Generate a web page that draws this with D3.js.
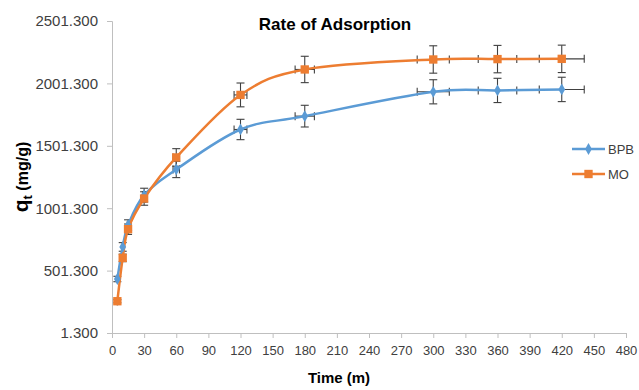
<!DOCTYPE html>
<html>
<head>
<meta charset="utf-8">
<script src="https://cdn.jsdelivr.net/npm/d3@7"></script>
<style>
  body { margin: 0; background: #fff; }
  text { font-family: "Liberation Sans", Arial, sans-serif; fill: #404040; }
</style>
</head>
<body>
<div id="chart"></div>
<script>
// Data
const times = [5, 10, 15, 30, 60, 120, 180, 300, 360, 420];
const bpbValues = [434, 691, 865, 1106, 1312, 1632, 1739, 1934, 1945, 1953];
const moValues = [256, 603, 833, 1079, 1408, 1909, 2113, 2193, 2196, 2198];
const seriesNames = ['BPB', 'MO'];
const xTicks = d3.range(0, 481, 30);
const yTicks = [1.3, 501.3, 1001.3, 1501.3, 2001.3, 2501.3];
const errorPercent = 0.05;

const width = 639, height = 390;
const colors = { BPB: '#5b9bd5', MO: '#ed7d31' };

const svg = d3.select('#chart')
    .append('svg')
    .attr('width', width)
    .attr('height', height);

const x = d3.scaleLinear().domain([0, 480]).range([112, 626]);
const y = d3.scaleLinear().domain([1.3, 2501.3]).range([333, 21]);

// Axes
const xAxis = svg.append('g')
    .attr('transform', `translate(0,${y(1.3)})`)
    .call(d3.axisBottom(x).tickValues(xTicks).tickSize(5).tickPadding(5).tickFormat(d3.format('d')));
xAxis.selectAll('text').style('font-size', '13px').attr('dy', '0.9em');

const yAxis = svg.append('g')
    .attr('transform', `translate(${x(0)},0)`)
    .call(d3.axisLeft(y).tickValues(yTicks).tickSize(5).tickPadding(9).tickFormat(d3.format('.3f')));
yAxis.selectAll('text').style('font-size', '15px');

svg.selectAll('.domain, .tick line').attr('stroke', '#bfbfbf');
svg.selectAll('.domain').attr('stroke-width', 1);

// Series
const series = [
    { name: 'BPB', values: bpbValues },
    { name: 'MO', values: moValues }
].map(s => ({
    name: s.name,
    points: times.map((t, i) => ({ t: t, v: s.values[i] }))
}));

const line = d3.line()
    .x(d => x(d.t))
    .y(d => y(d.v))
    .curve(d3.curveCardinal.tension(0));

// Error bars (5% in both directions)
const errColor = '#404040';
series.forEach(s => {
    const g = svg.append('g').attr('class', 'err-' + s.name)
        .attr('stroke', errColor).attr('stroke-width', 1.1);
    s.points.forEach(p => {
        const dv = p.v * errorPercent, dt = p.t * errorPercent;
        const cx = x(p.t), cy = y(p.v);
        g.append('line').attr('x1', cx).attr('x2', cx).attr('y1', y(p.v - dv)).attr('y2', y(p.v + dv));
        g.append('line').attr('x1', cx - 4).attr('x2', cx + 4).attr('y1', y(p.v - dv)).attr('y2', y(p.v - dv));
        g.append('line').attr('x1', cx - 4).attr('x2', cx + 4).attr('y1', y(p.v + dv)).attr('y2', y(p.v + dv));
        g.append('line').attr('x1', x(p.t - dt)).attr('x2', x(p.t + dt)).attr('y1', cy).attr('y2', cy);
        g.append('line').attr('x1', x(p.t - dt)).attr('x2', x(p.t - dt)).attr('y1', cy - 4).attr('y2', cy + 4);
        g.append('line').attr('x1', x(p.t + dt)).attr('x2', x(p.t + dt)).attr('y1', cy - 4).attr('y2', cy + 4);
    });
});

series.forEach(s => {
    svg.append('path')
        .datum(s.points)
        .attr('fill', 'none')
        .attr('stroke', colors[s.name])
        .attr('stroke-width', 2.5)
        .attr('d', line);
});

const symbols = { BPB: d3.symbolDiamond, MO: d3.symbolSquare };
const sizes = { BPB: 40, MO: 70 };
series.forEach(s => {
    svg.append('g').selectAll('path')
        .data(s.points)
        .join('path')
        .attr('transform', d => `translate(${x(d.t)},${y(d.v)})`)
        .attr('d', d3.symbol().type(symbols[s.name]).size(sizes[s.name]))
        .attr('fill', colors[s.name]);
});

// Title and axis labels
svg.append('text')
    .attr('x', 335).attr('y', 30)
    .attr('text-anchor', 'middle')
    .style('font-size', '17px').style('font-weight', 'bold').style('fill', '#000')
    .text('Rate of Adsorption');

svg.append('text')
    .attr('x', 339).attr('y', 383)
    .attr('text-anchor', 'middle')
    .style('font-size', '15px').style('font-weight', 'bold').style('fill', '#000')
    .text('Time (m)');

const yLabel = svg.append('text')
    .attr('transform', 'translate(28,177) rotate(-90)')
    .attr('text-anchor', 'middle')
    .style('font-weight', 'bold').style('fill', '#000');
yLabel.append('tspan').style('font-size', '21px').text('q');
yLabel.append('tspan').style('font-size', '13px').attr('dy', 4).text('t');
yLabel.append('tspan').style('font-size', '16px').attr('dy', -4).text('  (mg/g)');

// Legend
const legend = svg.append('g');
seriesNames.forEach((name, i) => {
    const ly = 149 + i * 25;
    legend.append('line')
        .attr('x1', 572).attr('x2', 605).attr('y1', ly).attr('y2', ly)
        .attr('stroke', colors[name]).attr('stroke-width', 2.5);
    legend.append('path')
        .attr('transform', `translate(588.5,${ly})`)
        .attr('d', d3.symbol().type(symbols[name]).size(sizes[name]))
        .attr('fill', colors[name]);
    legend.append('text')
        .attr('x', 608).attr('y', ly).attr('dy', '0.35em')
        .style('font-size', '13px')
        .text(name);
});
</script>
</body>
</html>
